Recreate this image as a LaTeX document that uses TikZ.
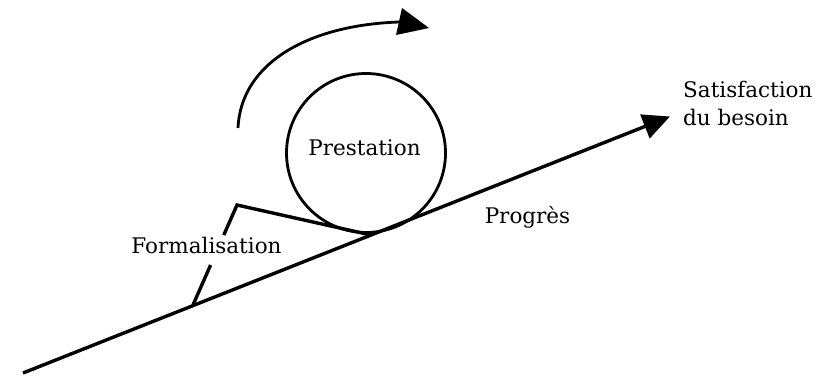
\documentclass[tikz,border=0pt]{standalone}
\usepackage{fontspec}
\setmainfont{DejaVu Serif}
\usetikzlibrary{arrows.meta,calc}
\tikzset{
  stroke/.style={line width=3.4pt,black},
  thin stroke/.style={line width=2.8pt,black},
  lbl/.style={inner sep=0pt,anchor=base,font=\fontsize{21.5}{25}\selectfont},
}
\begin{document}
\begin{tikzpicture}[x=1pt,y=-1pt]
\useasboundingbox (0,0) rectangle (832,375);
% main progress line
\coordinate (start) at (23,373);
\coordinate (tip) at (670,116.5);
\draw[stroke,-{Triangle[length=27pt,width=25pt]}] (start) -- (tip);
% circle
\node[circle,draw,line width=2.8pt,minimum size=159pt,inner sep=0pt] (circ) at (366,153) {};
\node[lbl] (prest) at (364.5,155) {Prestation};
% formalisation bracket
\coordinate (B) at (193,305);
\coordinate (T) at (237,205);
\coordinate (E) at (371,235);
\draw[stroke,line cap=butt] (B) -- ($(B)!0.4!(T)$);
\draw[stroke,line join=miter] ($(B)!0.7!(T)$) -- (T) -- (E);
\node[lbl] (form) at (206.5,253) {Formalisation};
% labels
\node[lbl] (prog) at (527.5,223) {Progrès};
\node[lbl,anchor=base west] (sat1) at (683,97) {Satisfaction};
\node[lbl,anchor=base west] (sat2) at (683,125) {du besoin};
% curved rotation arrow
\coordinate (cs) at (238,128);
\coordinate (ce) at (399,22);
\draw[thin stroke] (cs) .. controls (241,62) and (310,25) .. (ce);
\coordinate (h1) at (402,8);
\coordinate (h2) at (429,28);
\coordinate (h3) at (396,35);
\fill[black] (h1) -- (h2) -- (h3) -- cycle;
\end{tikzpicture}
\end{document}
